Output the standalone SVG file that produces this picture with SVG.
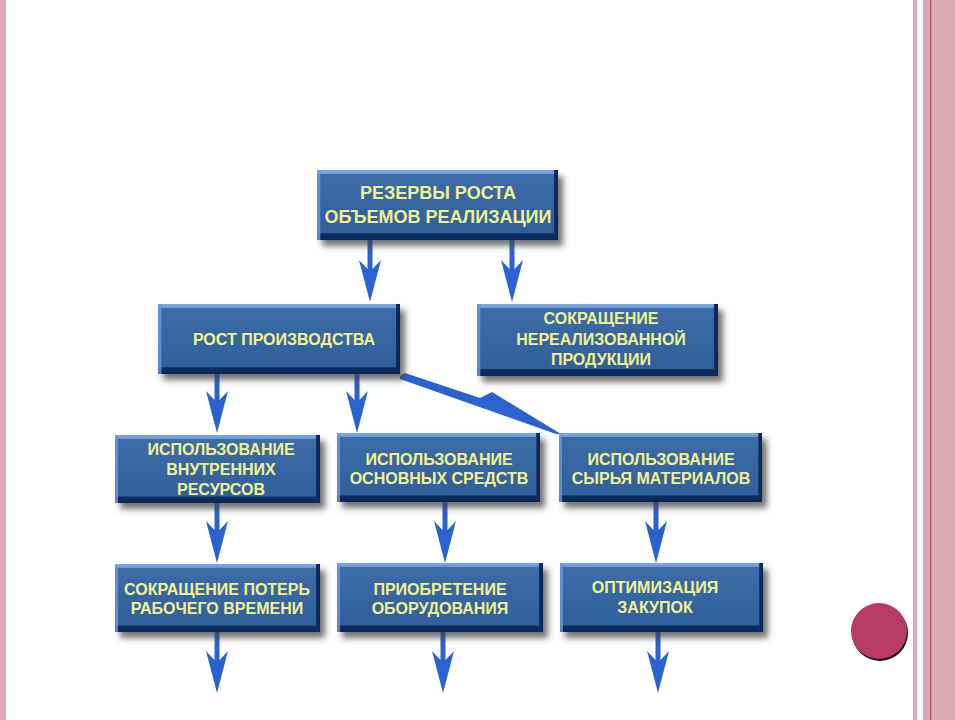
<svg xmlns="http://www.w3.org/2000/svg" width="955" height="720" viewBox="0 0 955 720">
<style>
.base{fill:url(#vg);filter:url(#sh)}
.edge{fill:url(#hg)}
.t{font-family:"Liberation Sans",Arial,sans-serif;font-weight:bold;font-size:16px;fill:#F3F18E;text-anchor:middle}
.t18{font-size:18px}
.arr{fill:#2A63CF}
.pink{fill:#DCAAB7}
</style>
<defs>
<linearGradient id="vg" x1="0" y1="0" x2="0" y2="1">
<stop offset="0" stop-color="#7BAAE6"/>
<stop offset="0.05" stop-color="#6C9CDA"/>
<stop offset="0.06" stop-color="#3C6DA9"/>
<stop offset="0.9" stop-color="#30609B"/>
<stop offset="0.91" stop-color="#0E2E62"/>
<stop offset="1" stop-color="#0A2756"/>
</linearGradient>
<linearGradient id="hg" x1="0" y1="0" x2="1" y2="0">
<stop offset="0" stop-color="#6A9BDA" stop-opacity="0.8"/>
<stop offset="0.014" stop-color="#6A9BDA" stop-opacity="0.8"/>
<stop offset="0.015" stop-color="#3C6DA9" stop-opacity="0"/>
<stop offset="0.982" stop-color="#0E2E62" stop-opacity="0"/>
<stop offset="0.983" stop-color="#0E2E62"/>
<stop offset="1" stop-color="#0A2756"/>
</linearGradient>
<filter id="sh" x="-10%" y="-20%" width="130%" height="150%">
<feDropShadow dx="5" dy="6" stdDeviation="3" flood-color="#444" flood-opacity="0.75"/>
</filter>
</defs>

<g id="frame">
<rect class="pink" x="0" y="0" width="6" height="720"/>
<rect class="pink" x="913" y="0" width="4" height="720"/>
<rect class="pink" x="923" y="0" width="32" height="720"/>
<rect x="930" y="0" width="1.2" height="720" fill="#B8506F"/>
<circle cx="880" cy="633" r="28" fill="#1A0F14"/>
<circle cx="879" cy="631" r="28" fill="#B83B66"/>
</g>

<g id="connectors">
<path class="arr" d="M367.5 240H372.5V269L381 260L370 302L359 260L367.5 269Z"/>
<path class="arr" d="M509.5 240H514.5V269L523 260L512 302L501 260L509.5 269Z"/>
<path class="arr" d="M214.5 373H219.5V400L228 391L217 433L206 391L214.5 400Z"/>
<path class="arr" d="M354.5 373H359.5V400L368 391L357 433L346 391L354.5 400Z"/>
<path class="arr" d="M214.5 503H219.5V530L228 521L217 563L206 521L214.5 530Z"/>
<path class="arr" d="M442.5 502H447.5V530L456 521L445 563L434 521L442.5 530Z"/>
<path class="arr" d="M653.5 502H658.5V530L667 521L656 563L645 521L653.5 530Z"/>
<path class="arr" d="M214.5 632H219.5V660L228 651L217 693L206 651L214.5 660Z"/>
<path class="arr" d="M440.5 632H445.5V660L454 651L443 693L432 651L440.5 660Z"/>
<path class="arr" d="M655.5 632H660.5V660L669 651L658 693L647 651L655.5 660Z"/>
<polygon class="arr" points="400,376 405,373 480,398 492,392 561,434 556,434 400,379"/>
</g>

<g id="n1">
<rect class="base" x="317" y="170" width="241" height="70"/>
<rect class="edge" x="317" y="170" width="241" height="70"/>
<text class="t t18" x="438" y="199">РЕЗЕРВЫ РОСТА</text>
<text class="t t18" x="438" y="223">ОБЪЕМОВ РЕАЛИЗАЦИИ</text>
</g>
<g id="n2">
<rect class="base" x="158" y="304" width="242" height="70"/>
<rect class="edge" x="158" y="304" width="242" height="70"/>
<text class="t" x="284" y="345">РОСТ ПРОИЗВОДСТВА</text>
</g>
<g id="n3">
<rect class="base" x="477" y="304" width="241" height="72"/>
<rect class="edge" x="477" y="304" width="241" height="72"/>
<text class="t" x="601" y="324">СОКРАЩЕНИЕ</text>
<text class="t" x="601" y="345">НЕРЕАЛИЗОВАННОЙ</text>
<text class="t" x="601" y="365">ПРОДУКЦИИ</text>
</g>
<g id="n4">
<rect class="base" x="115" y="435" width="205" height="68"/>
<rect class="edge" x="115" y="435" width="205" height="68"/>
<text class="t" x="221" y="455">ИСПОЛЬЗОВАНИЕ</text>
<text class="t" x="221" y="475">ВНУТРЕННИХ</text>
<text class="t" x="221" y="495">РЕСУРСОВ</text>
</g>
<g id="n5">
<rect class="base" x="337" y="433" width="203" height="69"/>
<rect class="edge" x="337" y="433" width="203" height="69"/>
<text class="t" x="439" y="465">ИСПОЛЬЗОВАНИЕ</text>
<text class="t" x="439" y="484">ОСНОВНЫХ СРЕДСТВ</text>
</g>
<g id="n6">
<rect class="base" x="559" y="433" width="203" height="69"/>
<rect class="edge" x="559" y="433" width="203" height="69"/>
<text class="t" x="661" y="465">ИСПОЛЬЗОВАНИЕ</text>
<text class="t" x="661" y="484">СЫРЬЯ МАТЕРИАЛОВ</text>
</g>
<g id="n7">
<rect class="base" x="115" y="564" width="205" height="68"/>
<rect class="edge" x="115" y="564" width="205" height="68"/>
<text class="t" x="217" y="595">СОКРАЩЕНИЕ ПОТЕРЬ</text>
<text class="t" x="217" y="614">РАБОЧЕГО ВРЕМЕНИ</text>
</g>
<g id="n8">
<rect class="base" x="337" y="563" width="206" height="69"/>
<rect class="edge" x="337" y="563" width="206" height="69"/>
<text class="t" x="440" y="595">ПРИОБРЕТЕНИЕ</text>
<text class="t" x="440" y="614">ОБОРУДОВАНИЯ</text>
</g>
<g id="n9">
<rect class="base" x="560" y="563" width="203" height="69"/>
<rect class="edge" x="560" y="563" width="203" height="69"/>
<text class="t" x="655" y="593">ОПТИМИЗАЦИЯ</text>
<text class="t" x="655" y="613">ЗАКУПОК</text>
</g>
</svg>
